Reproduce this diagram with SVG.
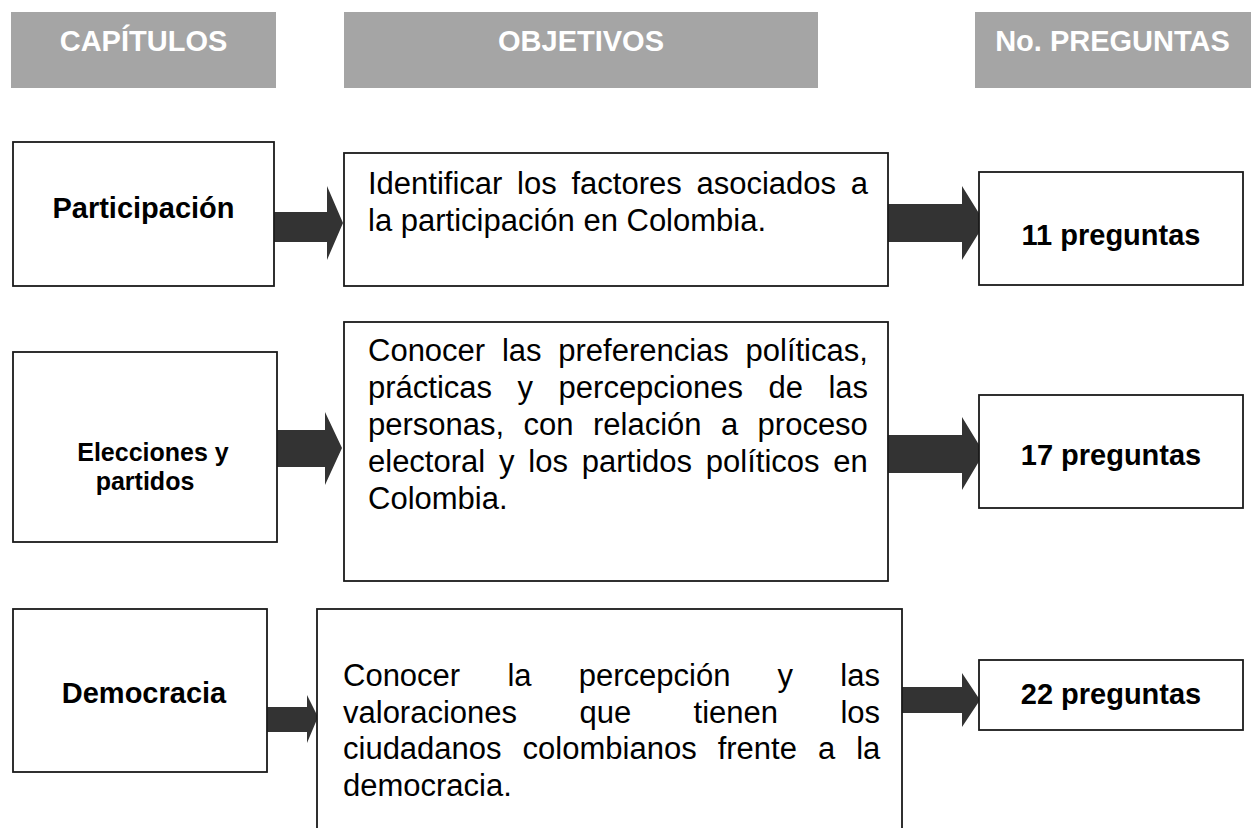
<svg xmlns="http://www.w3.org/2000/svg" width="1251" height="828" viewBox="0 0 1251 828">
<defs>
<style>
.hdr{fill:#a5a5a5}
.htx{font-family:"Liberation Sans",Arial,sans-serif;font-weight:bold;font-size:29px;fill:#ffffff;text-anchor:middle}
.box{fill:#ffffff;stroke:#1a1a1a;stroke-width:1.8}
.lbl{font-family:"Liberation Sans",Arial,sans-serif;font-weight:bold;font-size:29px;fill:#000;text-anchor:middle}
.obj{font-family:"Liberation Sans",Arial,sans-serif;font-size:31px;fill:#000}
.arr{fill:#333333}
</style>
</defs>
<rect width="1251" height="828" fill="#ffffff"/>
<g id="header-capitulos"><rect class="hdr" x="11" y="12" width="265" height="76"/><text class="htx" x="143.5" y="51">CAPÍTULOS</text></g>
<g id="header-objetivos"><rect class="hdr" x="344" y="12" width="474" height="76"/><text class="htx" x="581" y="51">OBJETIVOS</text></g>
<g id="header-preguntas"><rect class="hdr" x="975" y="12" width="276" height="76"/><text class="htx" x="1112.5" y="51">No. PREGUNTAS</text></g>

<g id="connectors">
<polygon class="arr" points="274,212 327,212 327,186 343,223 327,260 327,242 274,242"/>
<polygon class="arr" points="888,204 962,204 962,186 985,223 962,260 962,242 888,242"/>
<polygon class="arr" points="277,430 325,430 325,412 342,448 325,485 325,467 277,467"/>
<polygon class="arr" points="888,435 962,435 962,417 984,453 962,490 962,473 888,473"/>
<polygon class="arr" points="267,707 307,707 307,695 318,717 307,743 307,732 267,732"/>
<polygon class="arr" points="902,687 962,687 962,673 980,700 962,727 962,713 902,713"/>
</g>

<g id="cap-participacion"><rect class="box" x="13" y="142" width="261" height="144"/><text class="lbl" x="143.5" y="218">Participación</text></g>
<g id="obj-participacion"><rect class="box" x="344" y="153" width="544" height="133"/>
<text class="obj" x="368" y="194" style="word-spacing:6.1px">Identificar los factores asociados a</text>
<text class="obj" x="368" y="231">la participación en Colombia.</text></g>
<g id="preg-participacion"><rect class="box" x="979" y="172" width="264" height="113"/><text class="lbl" x="1111" y="245">11 preguntas</text></g>

<g id="cap-elecciones"><rect class="box" x="13" y="352" width="264" height="190"/>
<text class="lbl" x="153" y="461" style="font-size:25px">Elecciones y</text>
<text class="lbl" x="145" y="490" style="font-size:25px">partidos</text></g>
<g id="obj-elecciones"><rect class="box" x="344" y="322" width="544" height="259"/>
<text class="obj" x="368" y="361" style="word-spacing:8.1px">Conocer las preferencias políticas,</text>
<text class="obj" x="368" y="398" style="word-spacing:16.9px">prácticas y percepciones de las</text>
<text class="obj" x="368" y="435" style="word-spacing:10.8px">personas, con relación a proceso</text>
<text class="obj" x="368" y="472" style="word-spacing:5.2px">electoral y los partidos políticos en</text>
<text class="obj" x="368" y="509">Colombia.</text></g>
<g id="preg-elecciones"><rect class="box" x="979" y="395" width="264" height="113"/><text class="lbl" x="1111" y="465">17 preguntas</text></g>

<g id="cap-democracia"><rect class="box" x="13" y="609" width="254" height="163"/><text class="lbl" x="144" y="703">Democracia</text></g>
<g id="obj-democracia"><rect class="box" x="317" y="609" width="585" height="240"/>
<text class="obj" x="343" y="686" style="word-spacing:38.6px">Conocer la percepción y las</text>
<text class="obj" x="343" y="722.5" style="word-spacing:53.8px">valoraciones que tienen los</text>
<text class="obj" x="343" y="759" style="word-spacing:12.4px">ciudadanos colombianos frente a la</text>
<text class="obj" x="343" y="795.5">democracia.</text></g>
<g id="preg-democracia"><rect class="box" x="979" y="660" width="264" height="70"/><text class="lbl" x="1111" y="704">22 preguntas</text></g>
</svg>
